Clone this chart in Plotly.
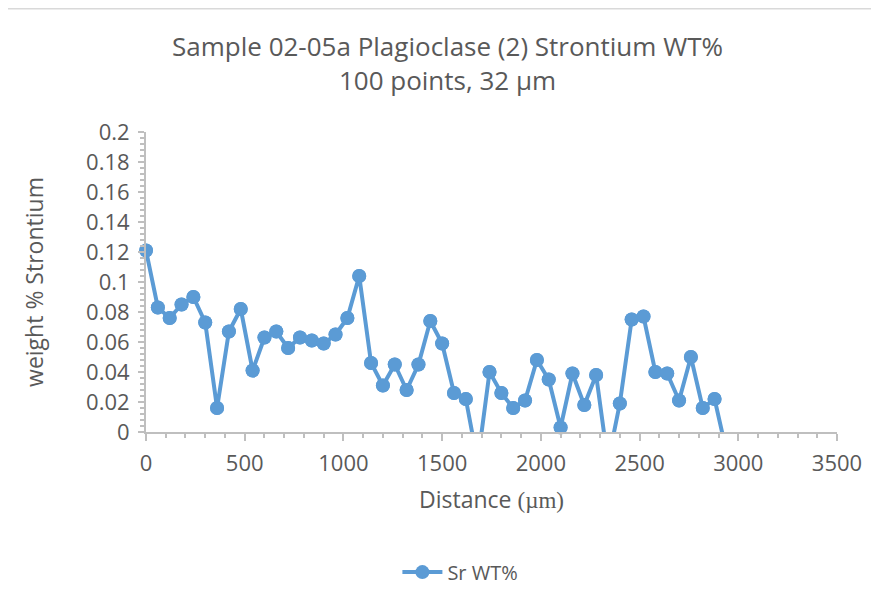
import plotly.graph_objects as go

# Distance (µm) and Sr weight %
distance = [0, 60, 120, 180, 240, 300, 360, 420, 480, 540,
            600, 660, 720, 780, 840, 900, 960, 1020, 1080, 1140,
            1200, 1260, 1320, 1380, 1440, 1500, 1560, 1620, 1680, 1740,
            1800, 1860, 1920, 1980, 2040, 2100, 2160, 2220, 2280, 2340,
            2400, 2460, 2520, 2580, 2640, 2700, 2760, 2820, 2880, 2940]
sr_wt = [0.121, 0.083, 0.076, 0.085, 0.090, 0.073, 0.016, 0.067, 0.082, 0.041,
         0.063, 0.067, 0.056, 0.063, 0.061, 0.059, 0.065, 0.076, 0.104, 0.046,
         0.031, 0.045, 0.028, 0.045, 0.074, 0.059, 0.026, 0.022, -0.020, 0.040,
         0.026, 0.016, 0.021, 0.048, 0.035, 0.003, 0.039, 0.018, 0.038, -0.020,
         0.019, 0.075, 0.077, 0.040, 0.039, 0.021, 0.050, 0.016, 0.022, -0.013]

series_name = "Sr WT%"
title_lines = ["Sample 02-05a Plagioclase (2) Strontium WT%", "100 points, 32 µm"]
x_title = "Distance <span style='font-family:Liberation Serif'>(µm)</span>"
y_title = "weight % Strontium"

BLUE = "#5B9BD5"
TXT = "#595959"
AX = "#BFBFBF"
FONT = "Open Sans"

fig = go.Figure()
fig.add_trace(go.Scatter(
    x=distance, y=sr_wt, mode="lines+markers", name=series_name,
    line=dict(color=BLUE, width=4),
    marker=dict(color=BLUE, size=14),
    cliponaxis=True,
))
# visible (non-negative) markers drawn unclipped so they may overlap the axis line
vis_x = [d for d, v in zip(distance, sr_wt) if v >= 0]
vis_y = [v for v in sr_wt if v >= 0]
fig.add_trace(go.Scatter(
    x=vis_x, y=vis_y, mode="markers", showlegend=False, hoverinfo="skip",
    marker=dict(color=BLUE, size=14), cliponaxis=False,
))

fig.update_layout(
    width=879, height=608,
    margin=dict(l=138, r=50, t=124, b=184),
    paper_bgcolor="white", plot_bgcolor="white",
    font=dict(family=FONT, color=TXT, size=22),
    title=dict(text="<br>".join(title_lines), x=0.5, xanchor="center",
               y=0.921, yanchor="middle",
               font=dict(family=FONT, size=26, color=TXT)),
    showlegend=True,
    legend=dict(orientation="h", x=0.455, xanchor="center", y=-0.467, yanchor="middle",
                font=dict(family=FONT, size=20, color=TXT), itemwidth=40),
    xaxis=dict(range=[0, 3500], dtick=500, tick0=0, showgrid=False, zeroline=False,
               showline=True, linecolor=AX, linewidth=2,
               ticks="outside", ticklen=7, tickwidth=2, tickcolor=AX,
               minor=dict(dtick=100, ticks="outside", ticklen=4, tickwidth=2, tickcolor=AX),
               tickfont=dict(family=FONT, size=22, color=TXT), ticklabelstandoff=4,
               title=dict(text=x_title, font=dict(family=FONT, size=23, color=TXT), standoff=15)),
    yaxis=dict(range=[0, 0.2], dtick=0.02, tick0=0, showgrid=False, zeroline=False,
               showline=True, linecolor=AX, linewidth=2,
               ticks="outside", ticklen=6, tickwidth=2, tickcolor=AX,
               minor=dict(dtick=0.004, ticks="outside", ticklen=4, tickwidth=2, tickcolor=AX),
               tickfont=dict(family=FONT, size=22, color=TXT), ticklabelstandoff=4,
               tickformat="~g",
               title=dict(text=y_title, font=dict(family=FONT, size=23, color=TXT), standoff=36)),
    shapes=[dict(type="line", xref="paper", yref="paper",
                 x0=-0.1997, x1=1.0724, y0=1.4108, y1=1.4108,
                 line=dict(color="#D9D9D9", width=1.5))],
)

fig.write_html("out.html")
